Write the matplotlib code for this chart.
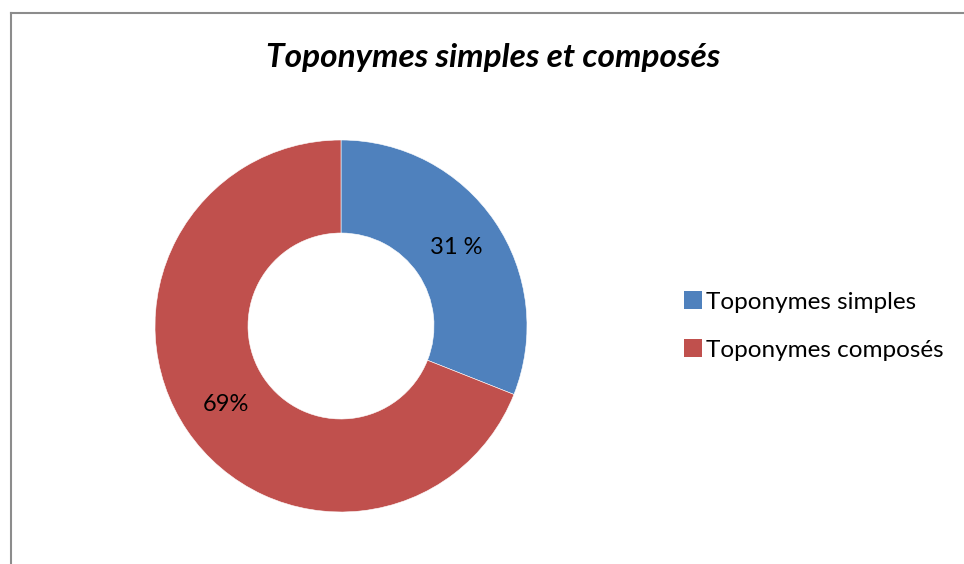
import matplotlib
matplotlib.use('Agg')
import matplotlib.pyplot as plt
from matplotlib.lines import Line2D
from matplotlib.patches import Patch

# donnees du graphique
categories = ['Toponymes simples', 'Toponymes composés']
values = [31, 69]
value_labels = ['31 %', '69%']
colors = ['#4F81BD', '#C0504D']
title = 'Toponymes simples et composés'

plt.rcParams['font.family'] = ['Lato', 'DejaVu Sans']

W, H = 964, 564
fig = plt.figure(figsize=(W / 100, H / 100), dpi=100)

# cadre gris (haut et gauche seulement)
fig.add_artist(Line2D([11 / W, 1.0], [1 - 13 / H, 1 - 13 / H], color='#8c8c8c', lw=1.5,
                      transform=fig.transFigure))
fig.add_artist(Line2D([11 / W, 11 / W], [0, 1 - 13 / H], color='#8c8c8c', lw=1.5,
                      transform=fig.transFigure))

# anneau : centre (341, 326), rayon 186 px
cx, cy, R = 341, 326, 186
ax = fig.add_axes([(cx - R) / W, (H - cy - R) / H, 2 * R / W, 2 * R / H])
wedges, texts = ax.pie(values, colors=colors, startangle=90, counterclock=False,
                       radius=1.0, labels=value_labels, labeldistance=0.75,
                       wedgeprops=dict(width=0.5, edgecolor='white', linewidth=0.4),
                       textprops=dict(fontsize=17, color='black', ha='center', va='center'))
ax.set_xlim(-1, 1)
ax.set_ylim(-1, 1)
ax.set_aspect('auto')
ax.axis('off')

fig.text(493 / W, 1 - 57 / H, title, ha='center', va='center', fontsize=24,
         fontweight='bold', fontstyle='italic')

handles = [Patch(facecolor=c, edgecolor='none') for c in colors]
fig.legend(handles, categories, loc='center left', bbox_to_anchor=(684 / W, 1 - 326 / H),
           frameon=False, fontsize=17.5, handlelength=0.75, handleheight=0.75,
           handletextpad=0.15, labelspacing=1.1, borderpad=0, borderaxespad=0)

fig.savefig('out.png', dpi=100, facecolor='white')
